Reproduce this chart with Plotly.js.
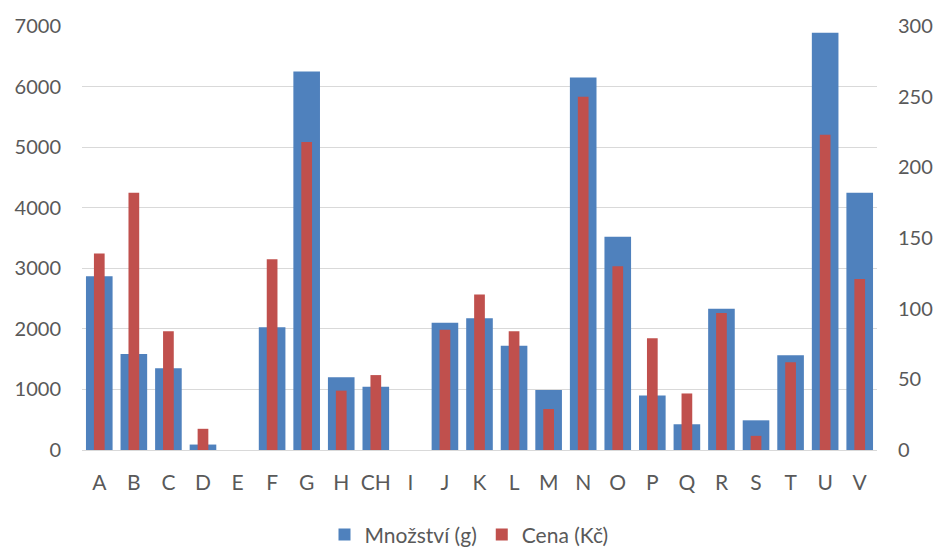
<!DOCTYPE html>
<html>
<head>
<meta charset="utf-8">
<script src="https://cdn.plot.ly/plotly-3.0.1.min.js"></script>
<style>html,body{margin:0;padding:0;background:#fff;}#chart{width:938px;height:547px;}</style>
</head>
<body>
<div id="chart"></div>
<script>
const categories = ["A","B","C","D","E","F","G","H","CH","I","J","K","L","M","N","O","P","Q","R","S","T","U","V"];
const mnozstvi = [2870,1585,1350,90,0,2025,6250,1200,1045,0,2100,2175,1720,990,6150,3520,900,425,2330,490,1565,6890,4245];
const cena = [139,182,84,15,0,135,218,42,53,0,85,110,84,29,250,130,79,40,97,10,62,223,121];
const leftTicks = [0,1000,2000,3000,4000,5000,6000,7000];
const rightTicks = [0,50,100,150,200,250,300];

const fontFam = 'Lato, "Open Sans", sans-serif';
const traces = [
  {type:'bar', name:'Množství (g)', x:categories, y:mnozstvi, width:0.77,
   marker:{color:'#4f81bd', line:{width:0}}, yaxis:'y'},
  {type:'bar', name:'Cena (Kč)', x:categories, y:cena, width:0.31,
   marker:{color:'#c0504d', line:{width:0}}, yaxis:'y2'}
];
const layout = {
  width:938, height:547,
  margin:{l:82, r:61, t:26, b:97, autoexpand:false},
  paper_bgcolor:'#fff', plot_bgcolor:'#fff',
  barmode:'overlay',
  font:{family:fontFam, size:20, color:'#595959'},
  showlegend:true,
  legend:{orientation:'h', x:0.5, xref:'container', xanchor:'center', y:0.022, yref:'container', yanchor:'middle',
          font:{size:21, color:'#595959'}, itemwidth:30, traceorder:'normal'},
  xaxis:{type:'category', tickvals:categories, showgrid:false, showline:true, linecolor:'#d9d9d9', linewidth:1,
         ticks:'', tickfont:{size:21, color:'#595959'}, ticklabelstandoff:14, range:[-0.5, categories.length-0.5]},
  yaxis:{range:[0,7000], tickvals:leftTicks, ticktext:leftTicks.map(String), showgrid:true, gridcolor:'#d9d9d9', gridwidth:1,
         zeroline:false, showline:false, ticks:'', tickfont:{size:20, color:'#595959'}, ticklabelstandoff:20},
  yaxis2:{range:[0,300], tickvals:rightTicks, ticktext:rightTicks.map(String), overlaying:'y', side:'right', showgrid:false,
          zeroline:false, showline:false, ticks:'', tickfont:{size:20, color:'#595959'}, ticklabelstandoff:20}
};
Plotly.newPlot('chart', traces, layout, {displayModeBar:false, staticPlot:true});
</script>
</body>
</html>
